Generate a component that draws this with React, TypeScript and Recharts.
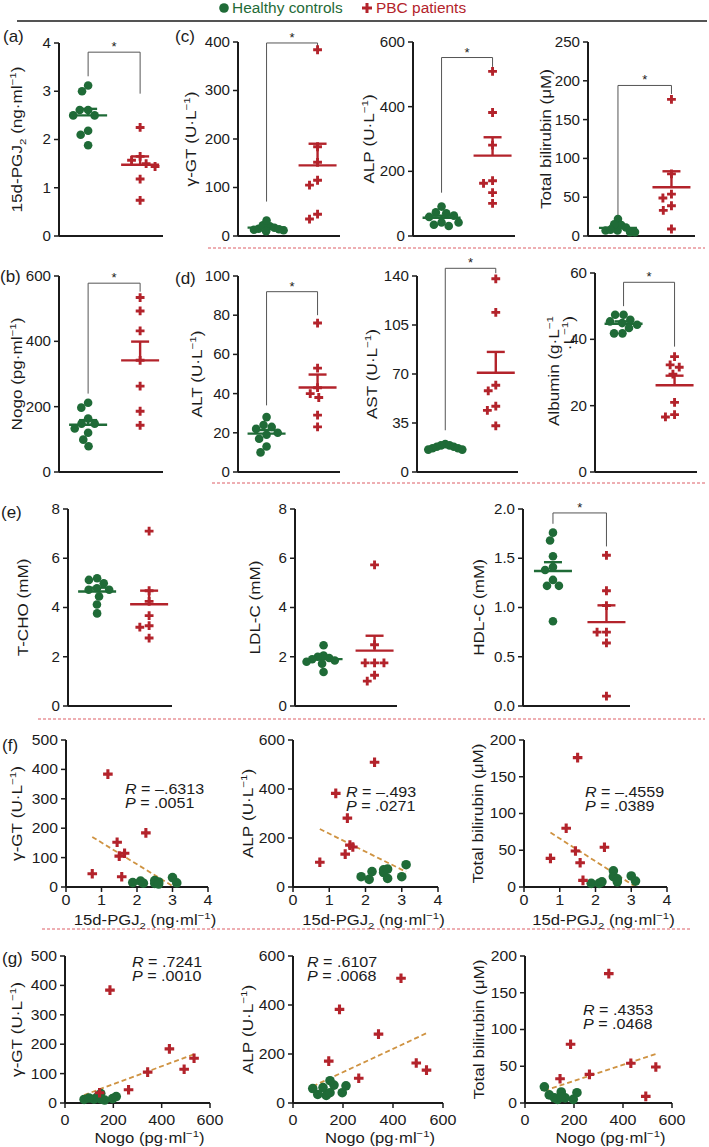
import React from 'react';
import { ScatterChart, Scatter, XAxis, YAxis, ReferenceLine } from 'recharts';

const FONT = '"Liberation Sans", Arial, Helvetica, sans-serif';
const INK = '#1b1b1b';
const GREEN = '#1f6b37';
const RED = '#b3232b';
const TREND = '#cf9342';
const SEP = '#dd5e66';

// healthy controls (n = 9), one entry per subject, same order in every array
const pgjHC = [1.88, 2.1, 2.18, 2.5, 2.5, 2.61, 2.61, 3.0, 3.12];
const nogoHC = [197, 133, 120, 79, 212, 99, 164, 148, 148];
const ggtHC = [15, 20, 13, 12, 22, 17, 10, 32, 14];
const alpHC = [42, 31, 63, 59, 70, 35, 73, 42, 91];
const tbHC = [5, 5, 7, 22, 14, 11, 7, 15, 8];
const altHC = [28, 24, 23, 22, 20, 19, 17, 13, 10];
const astHC = [20, 19, 19, 18, 18, 17, 17, 16, 16];
const albHC = [47.4, 47.4, 45.9, 45.4, 44.9, 44.4, 43.4, 41.8, 41.8];
const tchoHC = [5.19, 5.12, 4.98, 4.78, 4.72, 4.72, 4.45, 4.12, 3.76];
const ldlHC = [2.47, 2.05, 2.0, 1.95, 1.9, 1.85, 1.8, 1.72, 1.38];
const hdlHC = [1.76, 1.68, 1.52, 1.41, 1.38, 1.28, 1.22, 1.22, 0.86];

// PBC patients (n = 7)
const pgjPBC = [0.74, 1.18, 1.44, 1.5, 1.65, 1.57, 2.25];
const nogoPBC = [263, 186, 534, 342, 493, 143, 432];
const ggtPBC = [45, 384, 152, 105, 115, 35, 184];
const alpPBC = [101, 382, 134, 281, 163, 171, 509];
const tbPBC = [39, 80, 49, 176, 9, 33, 54];
const altPBC = [76, 53, 43, 40, 38, 29, 23];
const astPBC = [138, 114, 62, 58, 47, 44, 33];
const albPBC = [34.8, 32.3, 31.6, 29.5, 21.0, 17.3, 16.6];
const tchoPBC = [7.1, 4.68, 4.25, 3.67, 3.26, 3.2, 2.76];
const ldlPBC = [5.73, 2.49, 1.75, 1.75, 1.75, 1.25, 1.01];
const hdlPBC = [1.53, 1.17, 1.02, 0.75, 0.75, 0.64, 0.1];

// R and P printed on the correlation plots
const rF = ['–.6313', '–.493', '–.4559'];
const pF = ['.0051', '.0271', '.0389'];
const rG = ['.7241', '.6107', '.4353'];
const pG = ['.0010', '.0068', '.0468'];

type Seg = { t: string; sup?: boolean; sub?: boolean; it?: boolean };

const UL: Seg[] = [{ t: ' (U·L' }, { t: '−1', sup: true }, { t: ')' }];
const MM: Seg[] = [{ t: ' (mM)' }];
const labPgj: Seg[] = [{ t: '15d-PGJ' }, { t: '2', sub: true }, { t: ' (ng·ml' }, { t: '−1', sup: true }, { t: ')' }];
const labNogo: Seg[] = [{ t: 'Nogo (pg·ml' }, { t: '−1', sup: true }, { t: ')' }];
const labGgt: Seg[] = [{ t: 'γ-GT' }, ...UL];
const labAlp: Seg[] = [{ t: 'ALP' }, ...UL];
const labTb: Seg[] = [{ t: 'Total bilirubin (μM)' }];

function Rich({ segs, size }: { segs: Seg[]; size: number }) {
  let shift = 0;
  return (
    <>
      {segs.map((s, i) => {
        const target = s.sup ? -0.42 * size : s.sub ? 0.28 * size : 0;
        const d = target - shift;
        shift = target;
        return (
          <tspan
            key={i}
            dy={d !== 0 ? d : undefined}
            fontSize={s.sup || s.sub ? size * 0.68 : undefined}
            fontStyle={s.it ? 'italic' : undefined}
          >
            {s.t}
          </tspan>
        );
      })}
    </>
  );
}

// text stretched along its reading direction, like the figure's lettering
function WText({ x, y, rot = 0, sx = 1.2, size, anchor = 'middle', segs, fill = INK, dy = '0.35em' }: any) {
  return (
    <text
      transform={`translate(${x},${y}) rotate(${rot}) scale(${sx},1)`}
      textAnchor={anchor}
      fontFamily={FONT}
      fontSize={size}
      fill={fill}
      dy={dy}
    >
      <Rich segs={segs} size={size} />
    </text>
  );
}

const YTick = ({ x, y, payload, fmt, fz = 14, sx = 1.08 }: any) => (
  <WText x={x} y={y} anchor="end" size={fz} sx={sx} segs={[{ t: fmt ? fmt(payload.value) : String(payload.value) }]} />
);

const XTick = ({ x, y, payload }: any) => (
  <WText x={x} y={y} size={14} sx={1.15} dy="0.71em" segs={[{ t: String(payload.value) }]} />
);

function AxisLab({ lines, px, cy }: any) {
  return (
    <g>
      {lines.map((ln: any, i: number) => (
        <WText key={i} x={px - ln.off} y={ln.at ?? cy} rot={-90} anchor={ln.anchor ?? 'middle'} size={14} sx={1.22} segs={ln.segs} />
      ))}
    </g>
  );
}

function XLab({ segs, cx, by }: any) {
  return <WText x={cx} y={by} size={14.5} sx={1.15} dy={0} segs={segs} />;
}

const Dot = (r: number) => (p: any) => <circle cx={p.cx} cy={p.cy} r={r} fill={GREEN} />;
const Cross = (a: number, w: number) => (p: any) => (
  <path d={`M${p.cx - a},${p.cy}H${p.cx + a}M${p.cx},${p.cy - a}V${p.cy + a}`} stroke={RED} strokeWidth={w} fill="none" />
);

function meanSem(v: number[]) {
  const n = v.length;
  const m = v.reduce((s, x) => s + x, 0) / n;
  const sd = Math.sqrt(v.reduce((s, x) => s + (x - m) ** 2, 0) / (n - 1));
  return { m, sem: sd / Math.sqrt(n) };
}

function linFit(xs: number[], ys: number[]) {
  const n = xs.length;
  const mx = xs.reduce((s, x) => s + x, 0) / n;
  const my = ys.reduce((s, y) => s + y, 0) / n;
  let sxy = 0;
  let sxx = 0;
  xs.forEach((x, i) => {
    sxy += (x - mx) * (ys[i] - my);
    sxx += (x - mx) ** 2;
  });
  const b = sxy / sxx;
  return { a: my - b * mx, b };
}

// greedy beeswarm: pixel offsets from the column centre, squeezed into +-half px
function swarm(vals: number[], ppu: number, d: number, half: number) {
  const placed: { px: number; py: number }[] = [];
  const out = new Array(vals.length).fill(0);
  const order = vals.map((_, i) => i).sort((i, j) => vals[j] - vals[i]);
  for (const i of order) {
    const py = vals[i] * ppu;
    const cands = [0];
    const blocks: [number, number][] = [];
    placed.forEach((p) => {
      const dy = Math.abs(p.py - py);
      if (dy < d) {
        const w = Math.sqrt(d * d - dy * dy);
        blocks.push([p.px - w, p.px + w]);
        cands.push(p.px - w, p.px + w);
      }
    });
    cands.sort((u, v) => Math.abs(u) - Math.abs(v) || u - v);
    const best = cands.find((c) => !blocks.some(([lo, hi]) => c > lo + 1e-6 && c < hi - 1e-6)) ?? 0;
    placed.push({ px: best, py });
    out[i] = best;
  }
  const widest = Math.max(...out.map(Math.abs));
  const k = widest > half ? half / widest : 1;
  return out.map((o) => o * k);
}

function seg(key: string, a: any, b: any, stroke: string, w: number, extra: any = {}) {
  return <ReferenceLine key={key} segment={[a, b]} stroke={stroke} strokeWidth={w} ifOverflow="visible" {...extra} />;
}

function DotPanel({ x0, x1, yTop, yBot, max, ticks, hc, pbc, lab, sig, fmt }: any) {
  const ML = 66;
  const MT = 26;
  const MR = 8;
  const MB = 12;
  const pw = x1 - x0;
  const ph = yBot - yTop;
  const ppu = ph / max;
  const cg = 0.28;
  const cr = 0.78;
  const gOff = swarm(hc, ppu, 8.4, 17);
  const rOff = swarm(pbc, ppu, 9.4, 17);
  const gData = hc.map((v: number, i: number) => ({ x: cg + gOff[i] / pw, y: v }));
  const rData = pbc.map((v: number, i: number) => ({ x: cr + rOff[i] / pw, y: v }));
  const mw = 19 / pw;
  const cw = 9 / pw;
  const marks: any[] = [];
  ([[cg, meanSem(hc), GREEN], [cr, meanSem(pbc), RED]] as any[]).forEach(([c, s, col], k) => {
    marks.push(seg(`m${k}`, { x: c - mw, y: s.m }, { x: c + mw, y: s.m }, col, 2.4));
    marks.push(seg(`e${k}`, { x: c, y: s.m }, { x: c, y: s.m + s.sem }, col, 2.4));
    marks.push(seg(`c${k}`, { x: c - cw, y: s.m + s.sem }, { x: c + cw, y: s.m + s.sem }, col, 2.4));
  });
  if (sig) {
    const [gb, top, rb] = sig;
    marks.push(seg('b1', { x: cg, y: gb }, { x: cg, y: top }, '#555', 1));
    marks.push(
      seg('b2', { x: cg, y: top }, { x: cr, y: top }, '#555', 1, {
        label: { value: '*', position: 'top', offset: 1, fill: INK, fontSize: 13, fontFamily: FONT },
      })
    );
    marks.push(seg('b3', { x: cr, y: top }, { x: cr, y: rb }, '#555', 1));
  }
  const lines = lab.map((l: any) => (l.at !== undefined ? { ...l, at: l.at - (yTop - MT) } : l));
  return (
    <div style={{ position: 'absolute', left: x0 - ML, top: yTop - MT }}>
      <ScatterChart width={ML + pw + MR} height={MT + ph + 1 + MB} margin={{ top: MT, right: MR, bottom: MB, left: 0 }}>
        <XAxis type="number" dataKey="x" domain={[0, 1]} height={1} tick={false} tickLine={false} axisLine={{ stroke: INK, strokeWidth: 2 }} />
        <YAxis
          type="number"
          dataKey="y"
          domain={[0, max]}
          ticks={ticks}
          interval={0}
          width={ML}
          tickSize={5}
          tickMargin={3}
          tickLine={{ stroke: INK, strokeWidth: 1.5 }}
          axisLine={{ stroke: INK, strokeWidth: 2 }}
          tick={(p: any) => <YTick {...p} fmt={fmt} />}
          label={<AxisLab lines={lines} px={ML} cy={MT + ph / 2} />}
        />
        <Scatter data={gData} shape={Dot(4.3)} isAnimationActive={false} />
        <Scatter data={rData} shape={Cross(4.4, 2.9)} isAnimationActive={false} />
        {marks}
      </ScatterChart>
    </div>
  );
}

function CorrPanel({ x0, x1, yTop, yBot, xmax, xticks, ymax, yticks, hx, hy, px, py, lab, xlab, xlabDx, xlabY, gap }: any) {
  const ML = 66;
  const MT = 12;
  const MR = 16;
  const XH = 50;
  const pw = x1 - x0;
  const ph = yBot - yTop;
  const xs = [...hx, ...px];
  const ys = [...hy, ...py];
  const { a, b } = linFit(xs, ys);
  const xa = Math.min(...xs);
  const xb = Math.max(...xs);
  const gData = hx.map((x: number, i: number) => ({ x, y: hy[i] }));
  const rData = px.map((x: number, i: number) => ({ x, y: py[i] }));
  return (
    <div style={{ position: 'absolute', left: x0 - ML, top: yTop - MT }}>
      <ScatterChart width={ML + pw + MR} height={MT + ph + XH} margin={{ top: MT, right: MR, bottom: 0, left: 0 }}>
        <XAxis
          type="number"
          dataKey="x"
          domain={[0, xmax]}
          ticks={xticks}
          interval={0}
          height={XH}
          tickSize={5}
          tickMargin={gap}
          tickLine={{ stroke: INK, strokeWidth: 1.5 }}
          axisLine={{ stroke: INK, strokeWidth: 2 }}
          tick={(p: any) => <XTick {...p} />}
          label={<XLab segs={xlab} cx={ML + pw / 2 + xlabDx} by={MT + ph + xlabY} />}
        />
        <YAxis
          type="number"
          dataKey="y"
          domain={[0, ymax]}
          ticks={yticks}
          interval={0}
          width={ML}
          tickSize={5}
          tickMargin={3}
          tickLine={{ stroke: INK, strokeWidth: 1.5 }}
          axisLine={{ stroke: INK, strokeWidth: 2 }}
          tick={(p: any) => <YTick {...p} fz={14} sx={1.12} />}
          label={<AxisLab lines={lab} px={ML} cy={MT + ph / 2} />}
        />
        <ReferenceLine
          segment={[{ x: xa, y: a + b * xa }, { x: xb, y: a + b * xb }]}
          stroke={TREND}
          strokeWidth={1.8}
          strokeDasharray="5 3"
          ifOverflow="hidden"
        />
        <Scatter data={gData} shape={Dot(4.8)} isAnimationActive={false} />
        <Scatter data={rData} shape={Cross(4.8, 3.1)} isAnimationActive={false} />
      </ScatterChart>
    </div>
  );
}

function Stat({ x, y, r, p }: any) {
  return (
    <g>
      <WText x={x} y={y} anchor="start" size={14} sx={1.15} segs={[{ t: 'R', it: true }, { t: ` = ${r}` }]} />
      <WText x={x} y={y + 14} anchor="start" size={14} sx={1.15} segs={[{ t: 'P', it: true }, { t: ` = ${p}` }]} />
    </g>
  );
}

const one = (segs: Seg[], off: number) => [{ segs, off }];

export default function App() {
  const pgjX = { xmax: 4, xticks: [0, 1, 2, 3, 4], xlab: labPgj, xlabDx: 8, xlabY: 38, gap: 3 };
  const nogoX = { xmax: 600, xticks: [0, 200, 400, 600], xlab: labNogo, xlabDx: 12, xlabY: 40, gap: 7 };
  return (
    <div style={{ position: 'absolute', left: 0, top: 0, width: 709, height: 1147, background: '#fff', overflow: 'hidden' }}>
      {/* (a) and (c) */}
      <DotPanel x0={59} x1={163} yTop={43} yBot={236} max={4} ticks={[0, 1, 2, 3, 4]} hc={pgjHC} pbc={pgjPBC}
        lab={one(labPgj, 42)} sig={[3.31, 3.81, 2.95]} />
      <DotPanel x0={238} x1={340} yTop={42} yBot={236} max={400} ticks={[0, 100, 200, 300, 400]} hc={ggtHC} pbc={ggtPBC}
        lab={one(labGgt, 47)} sig={[71, 398, 390]} />
      <DotPanel x0={413} x1={515} yTop={42} yBot={236} max={600} ticks={[0, 200, 400, 600]} hc={alpHC} pbc={alpPBC}
        lab={one(labAlp, 44)} sig={[134, 552, 523]} />
      <DotPanel x0={588} x1={695} yTop={42} yBot={236} max={250} ticks={[0, 50, 100, 150, 200, 250]} hc={tbHC} pbc={tbPBC}
        lab={one(labTb, 42)} sig={[27, 194, 183]} />

      {/* (b) and (d) */}
      <DotPanel x0={59} x1={163} yTop={276} yBot={472} max={600} ticks={[0, 200, 400, 600]} hc={nogoHC} pbc={nogoPBC}
        lab={one(labNogo, 42)} sig={[240, 578, 552]} />
      <DotPanel x0={238} x1={340} yTop={276} yBot={472} max={100} ticks={[0, 20, 40, 60, 80, 100]} hc={altHC} pbc={altPBC}
        lab={one([{ t: 'ALT' }, ...UL], 41)} sig={[34, 92, 80]} />
      <DotPanel x0={417} x1={518} yTop={276} yBot={472} max={140} ticks={[0, 35, 70, 105, 140]} hc={astHC} pbc={astPBC}
        lab={one([{ t: 'AST' }, ...UL], 45)} sig={[29.8, 145.5, 142]} />
      <DotPanel x0={595} x1={697} yTop={273} yBot={472} max={60} ticks={[0, 20, 40, 60]} hc={albHC} pbc={albPBC}
        lab={[
          { segs: [{ t: 'Albumin (g·L' }, { t: '−1', sup: true }], off: 41, anchor: 'end', at: 316 },
          { segs: [{ t: '·L' }, { t: '−1', sup: true }, { t: ')' }], off: 26, anchor: 'end', at: 316 },
        ]} sig={[50, 57.2, 37.8]} />

      {/* (e) */}
      <DotPanel x0={68} x1={172} yTop={509} yBot={706} max={8} ticks={[0, 2, 4, 6, 8]} hc={tchoHC} pbc={tchoPBC}
        lab={one([{ t: 'T-CHO' }, ...MM], 45)} />
      <DotPanel x0={295} x1={397} yTop={509} yBot={706} max={8} ticks={[0, 2, 4, 6, 8]} hc={ldlHC} pbc={ldlPBC}
        lab={one([{ t: 'LDL-C' }, ...MM], 40)} />
      <DotPanel x0={523} x1={630} yTop={509} yBot={706} max={2} ticks={[0, 0.5, 1, 1.5, 2]} hc={hdlHC} pbc={hdlPBC}
        lab={one([{ t: 'HDL-C' }, ...MM], 44)} sig={[1.85, 1.96, 1.62]} fmt={(v: number) => v.toFixed(1)} />

      {/* (f) */}
      <CorrPanel x0={66} x1={208} yTop={740} yBot={887} ymax={500} yticks={[0, 100, 200, 300, 400, 500]}
        hx={pgjHC} hy={ggtHC} px={pgjPBC} py={ggtPBC} lab={one(labGgt, 49)} {...pgjX} />
      <CorrPanel x0={293} x1={438} yTop={740} yBot={887} ymax={600} yticks={[0, 200, 400, 600]}
        hx={pgjHC} hy={alpHC} px={pgjPBC} py={alpPBC} lab={one(labAlp, 45)} {...pgjX} />
      <CorrPanel x0={524} x1={667} yTop={740} yBot={887} ymax={200} yticks={[0, 50, 100, 150, 200]}
        hx={pgjHC} hy={tbHC} px={pgjPBC} py={tbPBC} lab={one(labTb, 46)} {...pgjX} />

      {/* (g) */}
      <CorrPanel x0={65} x1={210} yTop={956} yBot={1103} ymax={500} yticks={[0, 100, 200, 300, 400, 500]}
        hx={nogoHC} hy={ggtHC} px={nogoPBC} py={ggtPBC} lab={one(labGgt, 48)} {...nogoX} />
      <CorrPanel x0={293} x1={443} yTop={956} yBot={1103} ymax={600} yticks={[0, 200, 400, 600]}
        hx={nogoHC} hy={alpHC} px={nogoPBC} py={alpPBC} lab={one(labAlp, 45)} {...nogoX} />
      <CorrPanel x0={525} x1={672} yTop={956} yBot={1103} ymax={200} yticks={[0, 50, 100, 150, 200]}
        hx={nogoHC} hy={tbHC} px={nogoPBC} py={tbPBC} lab={one(labTb, 46)} {...nogoX} />

      <svg width={709} height={1147} style={{ position: 'absolute', left: 0, top: 0, pointerEvents: 'none' }}>
        {/* legend */}
        <circle cx={224} cy={8} r={4.8} fill={GREEN} />
        <WText x={232} y={8} anchor="start" size={15} sx={1.03} fill={GREEN} segs={[{ t: 'Healthy controls' }]} />
        <path d="M362,8H372M367,3V13" stroke={RED} strokeWidth={3} />
        <WText x={376} y={8} anchor="start" size={15} sx={1.03} fill={RED} segs={[{ t: 'PBC patients' }]} />
        <line x1={17} x2={707} y1={21} y2={21} stroke={INK} strokeWidth={1.5} />

        {/* separators */}
        <line x1={208} x2={705} y1={248} y2={248} stroke={SEP} strokeDasharray="3 2" />
        <line x1={212} x2={705} y1={483} y2={483} stroke={SEP} strokeDasharray="3 2" />
        <line x1={38} x2={705} y1={719} y2={719} stroke={SEP} strokeDasharray="3 2" />
        <line x1={42} x2={692} y1={929} y2={929} stroke={SEP} strokeDasharray="3 2" />

        {/* panel letters */}
        {[['(a)', 3, 36], ['(c)', 175, 36], ['(b)', 0, 276], ['(d)', 175, 278], ['(e)', 1, 512], ['(f)', 2, 745], ['(g)', 2, 958]].map(
          ([t, x, y]: any) => (
            <WText key={t} x={x} y={y} anchor="start" size={17} sx={1.0} segs={[{ t }]} />
          )
        )}

        {/* correlation statistics */}
        <Stat x={125} y={789} r={rF[0]} p={pF[0]} />
        <Stat x={346} y={792} r={rF[1]} p={pF[1]} />
        <Stat x={585} y={792} r={rF[2]} p={pF[2]} />
        <Stat x={132} y={962} r={rG[0]} p={pG[0]} />
        <Stat x={307} y={962} r={rG[1]} p={pG[1]} />
        <Stat x={583} y={1010} r={rG[2]} p={pG[2]} />
      </svg>
    </div>
  );
}
